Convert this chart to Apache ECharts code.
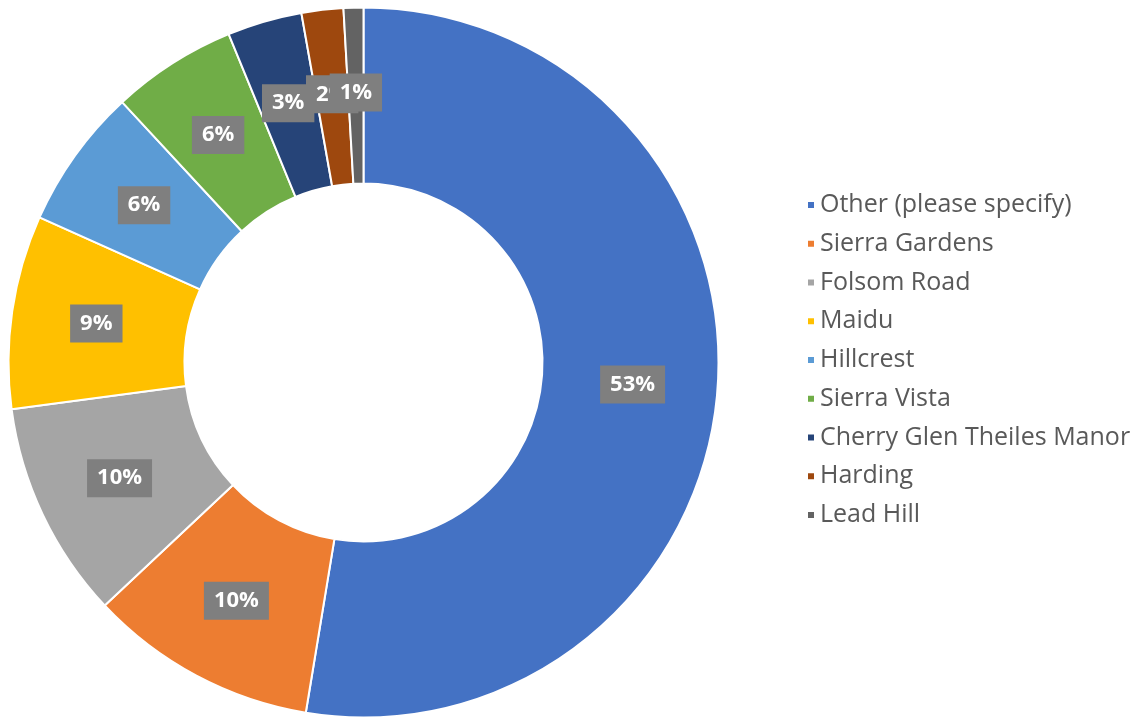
<!DOCTYPE html>
<html>
<head>
<meta charset="utf-8">
<script src="https://cdn.jsdelivr.net/npm/echarts@6/dist/echarts.min.js"></script>
<style>
  html, body { margin: 0; padding: 0; background: #fff; }
  #chart { width: 1143px; height: 719px; }
</style>
</head>
<body>
<div id="chart"></div>
<script>
var categories = ['Other (please specify)', 'Sierra Gardens', 'Folsom Road', 'Maidu', 'Hillcrest',
	'Sierra Vista', 'Cherry Glen Theiles Manor', 'Harding', 'Lead Hill'];
var values = [52.6, 10.4, 9.9, 8.8, 6.4, 5.7, 3.4, 1.9, 0.9];
var colors = ['#4472C4', '#ED7D31', '#A5A5A5', '#FFC000', '#5B9BD5', '#70AD47', '#264478', '#9E480E', '#636363'];

var myChart = echarts.init(document.getElementById('chart'));

var pieData = [];
for (var i = 0; i < categories.length; i++) {
	pieData.push({ name: categories[i], value: values[i] });
}

var option = {
	color: colors,
	animation: false,
	legend: {
		orient: 'vertical',
		left: 801,
		top: 186,
		icon: 'rect',
		itemWidth: 8,
		itemHeight: 8,
		itemGap: 10.75,
		data: categories,
		textStyle: {
			fontFamily: 'Open Sans',
			fontSize: 25,
			lineHeight: 28,
			color: '#595959'
		}
	},
	series: [
		{
			type: 'pie',
			center: [363.5, 362.5],
			radius: [179, 355],
			startAngle: 90,
			clockwise: true,
			avoidLabelOverlap: false,
			labelLayout: { hideOverlap: false },
			itemStyle: {
				borderColor: '#fff',
				borderWidth: 2
			},
			label: {
				position: 'inside',
				formatter: function (p) {
					return Math.round(p.value) + '%';
				},
				fontFamily: 'Open Sans',
				fontWeight: 'bold',
				fontSize: 22,
				color: '#fff',
				backgroundColor: '#7F7F7F',
				padding: [9, 10, 7, 10]
			},
			labelLine: { show: false },
			data: pieData
		}
	]
};

myChart.setOption(option);
</script>
</body>
</html>
